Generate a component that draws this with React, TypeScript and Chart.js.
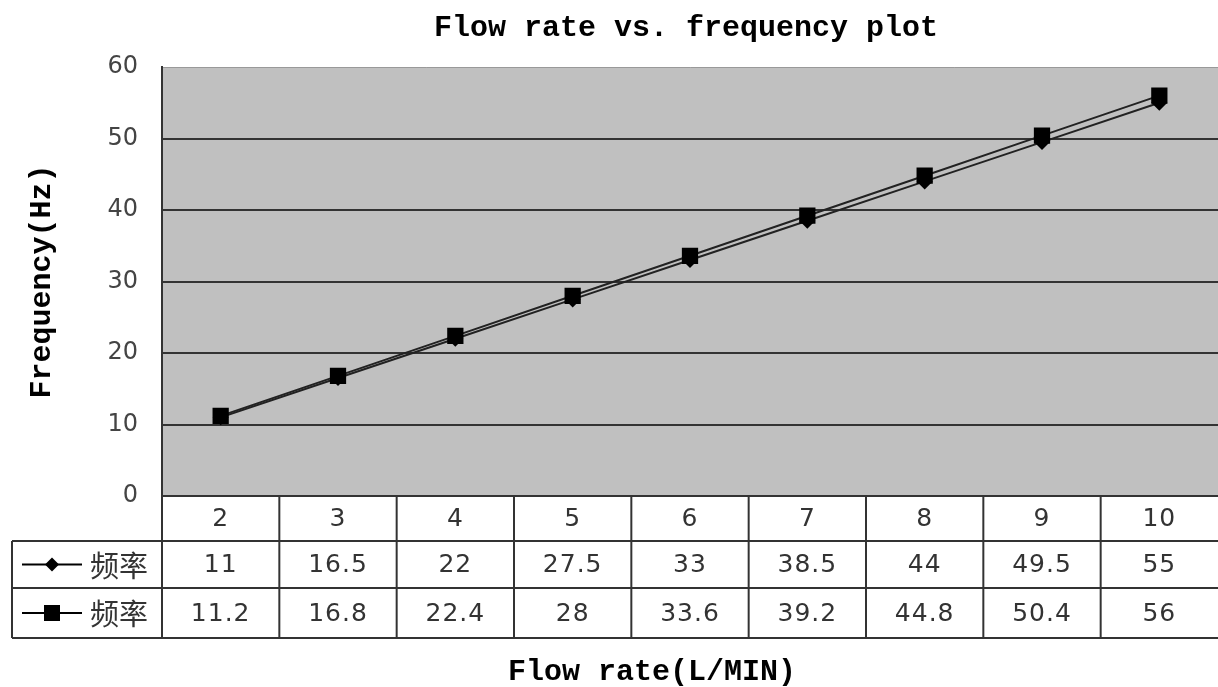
import React, { useEffect, useRef } from 'react';
import { Chart, registerables } from 'chart.js';

Chart.register(...registerables);

const categories = ['2', '3', '4', '5', '6', '7', '8', '9', '10'];
const seriesDiamond = [11, 16.5, 22, 27.5, 33, 38.5, 44, 49.5, 55];
const seriesSquare = [11.2, 16.8, 22.4, 28, 33.6, 39.2, 44.8, 50.4, 56];
const seriesNames = ['频率', '频率'];
const titleText = 'Flow rate vs. frequency plot';
const yTitleText = 'Frequency(Hz)';
const xTitleText = 'Flow rate(L/MIN)';
const yMin = 0;
const yMax = 60;
const yStep = 10;

const W = 1218;
const H = 687;

const monoFamily = '"Liberation Mono", "DejaVu Sans Mono", monospace';
const monoBold = 'bold 30px ' + monoFamily;

const plotBgPlugin = {
  id: 'plotBg',
  beforeDraw(chart: any) {
    const { ctx, chartArea } = chart;
    ctx.save();
    ctx.fillStyle = '#ffffff';
    ctx.fillRect(0, 0, chart.width, chart.height);
    ctx.fillStyle = '#C0C0C0';
    ctx.fillRect(chartArea.left, chartArea.top, chartArea.right - chartArea.left, chartArea.bottom - chartArea.top);
    ctx.restore();
  },
};

function drawKey(ctx: CanvasRenderingContext2D, cx: number, cy: number, shape: 'diamond' | 'square') {
  ctx.save();
  ctx.strokeStyle = '#000';
  ctx.lineWidth = 2;
  ctx.beginPath();
  ctx.moveTo(cx - 30, cy);
  ctx.lineTo(cx + 30, cy);
  ctx.stroke();
  ctx.fillStyle = '#000';
  ctx.beginPath();
  if (shape === 'diamond') {
    ctx.moveTo(cx, cy - 7);
    ctx.lineTo(cx + 7, cy);
    ctx.lineTo(cx, cy + 7);
    ctx.lineTo(cx - 7, cy);
    ctx.closePath();
  } else {
    ctx.rect(cx - 8, cy - 8, 16, 16);
  }
  ctx.fill();
  ctx.restore();
}

const tablePlugin = {
  id: 'dataTable',
  afterDraw(chart: any) {
    const { ctx, chartArea } = chart;
    const xs = chart.scales.x;
    const n = categories.length;
    const colW = (chartArea.right - chartArea.left) / n;
    const top = chartArea.bottom;
    const r1 = top + 45;
    const r2 = r1 + 47;
    const bot = r2 + 50;
    const leftOuter = 12;
    const right = chartArea.right;

    ctx.save();
    // title, centred over the plot area
    ctx.fillStyle = '#000';
    ctx.textAlign = 'center';
    ctx.textBaseline = 'middle';
    ctx.font = monoBold;
    ctx.fillText(titleText, (chartArea.left + chartArea.right) / 2 - 4, 28);

    ctx.strokeStyle = '#333';
    ctx.lineWidth = 2;
    const line = (x1: number, y1: number, x2: number, y2: number) => {
      ctx.beginPath();
      ctx.moveTo(x1, y1);
      ctx.lineTo(x2, y2);
      ctx.stroke();
    };
    line(chartArea.left, top, right, top);
    line(leftOuter, r1, right, r1);
    line(leftOuter, r2, right, r2);
    line(leftOuter, bot, right, bot);
    line(leftOuter, r1, leftOuter, bot);
    for (let i = 0; i < n; i++) {
      const bx = xs.getPixelForValue(i) - colW / 2;
      line(bx, top, bx, bot);
    }

    ctx.fillStyle = '#333';
    ctx.textAlign = 'center';
    ctx.textBaseline = 'middle';
    ctx.font = '25px "DejaVu Sans", "Liberation Sans", sans-serif';
    (ctx as any).letterSpacing = '1px';
    const rows = [seriesDiamond, seriesSquare];
    for (let i = 0; i < n; i++) {
      const cx = xs.getPixelForValue(i);
      ctx.fillText(categories[i], cx, (top + r1) / 2 + 1);
      ctx.fillText(String(rows[0][i]), cx, (r1 + r2) / 2 + 1);
      ctx.fillText(String(rows[1][i]), cx, (r2 + bot) / 2 + 1);
    }
    (ctx as any).letterSpacing = '0px';

    drawKey(ctx, 52, (r1 + r2) / 2, 'diamond');
    drawKey(ctx, 52, (r2 + bot) / 2, 'square');
    ctx.fillStyle = '#333';
    ctx.textAlign = 'left';
    ctx.font = '29px "Noto Sans CJK SC", sans-serif';
    ctx.fillText(seriesNames[0], 90, (r1 + r2) / 2 + 1);
    ctx.fillText(seriesNames[1], 90, (r2 + bot) / 2 + 1);

    ctx.fillStyle = '#000';
    ctx.textAlign = 'center';
    ctx.font = monoBold;
    ctx.fillText(xTitleText, 652, 672);
    ctx.restore();
  },
};

export default function App() {
  const ref = useRef<HTMLCanvasElement | null>(null);

  useEffect(() => {
    document.body.style.margin = '0';
    if (!ref.current) return;
    const chart = new Chart(ref.current, {
      type: 'line',
      data: {
        labels: categories,
        datasets: [
          {
            label: seriesNames[0],
            data: seriesDiamond,
            borderColor: '#222',
            backgroundColor: '#000',
            borderWidth: 2,
            pointStyle: 'rectRot',
            pointRadius: 8,
            pointBorderWidth: 0,
            pointBackgroundColor: '#000',
            order: 2,
          },
          {
            label: seriesNames[1],
            data: seriesSquare,
            borderColor: '#222',
            backgroundColor: '#000',
            borderWidth: 2,
            pointStyle: 'rect',
            pointRadius: 11.5,
            pointBorderWidth: 0,
            pointBackgroundColor: '#000',
            order: 1,
          },
        ],
      },
      options: {
        responsive: false,
        animation: false,
        layout: { autoPadding: false, padding: { left: 0, right: 0, top: 67, bottom: 191 } },
        plugins: {
          legend: { display: false },
          tooltip: { enabled: false },
          title: { display: false },
        },
        scales: {
          x: {
            type: 'category',
            offset: true,
            display: false,
          },
          y: {
            min: yMin,
            max: yMax,
            afterFit(scale: any) {
              scale.width = 162;
            },
            ticks: {
              stepSize: yStep,
              color: '#444',
              padding: 24,
              font: { family: '"DejaVu Sans", sans-serif', size: 24 },
            },
            grid: {
              drawTicks: false,
              color: (c: any) => (c.tick && c.tick.value === yMax ? '#999' : '#333'),
              lineWidth: (c: any) => (c.tick && c.tick.value === yMax ? 1 : 2),
            },
            border: { display: true, color: '#333', width: 2 },
            title: {
              display: true,
              text: yTitleText,
              color: '#000',
              font: { family: monoFamily, size: 30, weight: 'bold' },
              padding: { top: 24, bottom: 0 },
            },
          },
        },
      },
      plugins: [plotBgPlugin, tablePlugin],
    } as any);
    return () => chart.destroy();
  }, []);

  return <canvas ref={ref} width={W} height={H} style={{ display: 'block' }} />;
}
